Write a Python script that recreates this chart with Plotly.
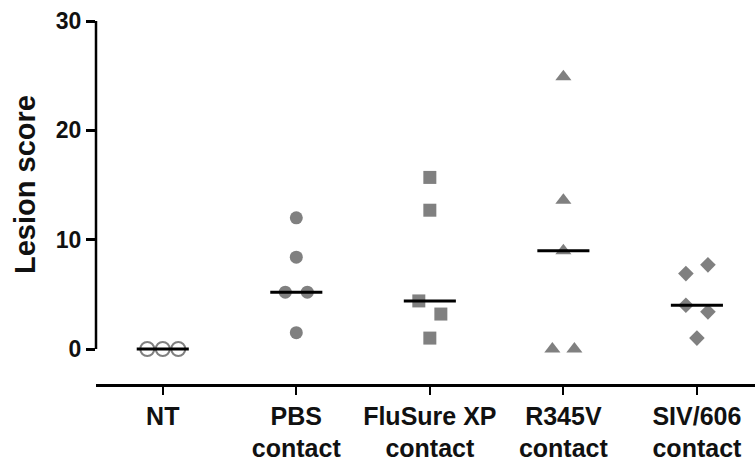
import numpy as np
import plotly.graph_objects as go

# Lesion scores per group (one value per animal)
categories = ["NT", "PBS<br>contact", "FluSure XP<br>contact", "R345V<br>contact", "SIV/606<br>contact"]
nt_scores = [0, 0, 0]
pbs_scores = [12.0, 8.4, 5.2, 5.2, 1.5]
flusure_scores = [15.7, 12.7, 4.4, 3.2, 1.0]
r345v_scores = [24.9, 13.6, 9.0, 0, 0]
siv606_scores = [6.9, 7.7, 4.0, 3.4, 1.0]
y_ticks = [0, 10, 20, 30]

groups = [nt_scores, pbs_scores, flusure_scores, r345v_scores, siv606_scores]
symbols = ["circle-open", "circle", "square", "triangle-up", "diamond"]
sizes = [14, 13, 13, 14, 12]
GREY = "#808080"
INK = "#111111"
FONT = "Liberation Sans, Arial, sans-serif"

W, H = 755, 461
M_L, M_R, M_T, M_B = 96, 0, 15, 77


def swarm_offsets(values, threshold=1.3):
    """Spread points with near-equal values side by side (column scatter)."""
    order = sorted(range(len(values)), key=lambda i: values[i])
    clusters, cur = [], [order[0]]
    for i in order[1:]:
        if values[i] - values[cur[-1]] < threshold:
            cur.append(i)
        else:
            clusters.append(cur)
            cur = [i]
    clusters.append(cur)
    offs = [0.0] * len(values)
    for cl in clusters:
        n = len(cl)
        if n == 1:
            continue
        span = 0.165 if n == 2 else 0.116 * (n - 1)
        cl = sorted(cl)  # keep list order left to right
        for k, i in enumerate(cl):
            offs[i] = -span / 2 + span * k / (n - 1)
    return offs


fig = go.Figure()

for gi, vals in enumerate(groups):
    offs = swarm_offsets(vals)
    xs = [gi + o for o in offs]
    if symbols[gi] == "circle-open":
        marker = dict(symbol="circle-open", size=sizes[gi], color=GREY,
                      line=dict(width=2, color=GREY))
    else:
        marker = dict(symbol=symbols[gi], size=sizes[gi], color=GREY,
                      line=dict(width=0))
    fig.add_trace(go.Scatter(x=xs, y=vals, mode="markers", marker=marker,
                             showlegend=False, hoverinfo="y", cliponaxis=False))

# median bars
for gi, vals in enumerate(groups):
    med = float(np.median(vals))
    fig.add_trace(go.Scatter(x=[gi - 0.195, gi + 0.195], y=[med, med], mode="lines",
                             line=dict(color="black", width=3), showlegend=False,
                             hoverinfo="skip", cliponaxis=False))

# y axis spine running only from 0 to 30
fig.add_shape(type="line", xref="paper", yref="y", x0=0, x1=0, y0=0, y1=30,
              line=dict(color="black", width=2.5))

# y axis title, centred on the 0-30 spine
plot_w = W - M_L - M_R
plot_h = H - M_T - M_B
fig.add_annotation(
    text="<b>Lesion score</b>", textangle=-90, showarrow=False,
    xref="paper", yref="paper",
    x=(25 - M_L) / plot_w, y=(H - M_B - 185) / plot_h,
    xanchor="center", yanchor="middle",
    font=dict(size=29, family=FONT, color=INK),
)

fig.update_layout(
    width=W, height=H,
    margin=dict(l=M_L, r=M_R, t=M_T, b=M_B),
    paper_bgcolor="white", plot_bgcolor="white",
    font=dict(family=FONT, color=INK),
    xaxis=dict(
        range=[-0.5, 4.435], tickmode="array", tickvals=list(range(len(categories))),
        ticktext=[f"<b>{c}</b>" for c in categories],
        tickfont=dict(size=25, family=FONT, color=INK),
        showline=True, linecolor="black", linewidth=2.5,
        ticks="outside", ticklen=8, tickwidth=2, tickcolor="black",
        showgrid=False, zeroline=False,
    ),
    yaxis=dict(
        range=[-3.2, 30.56], tickmode="array", tickvals=y_ticks,
        ticktext=[f"<b>{t}</b>" for t in y_ticks],
        tickfont=dict(size=23, family=FONT, color=INK),
        showline=False, ticks="outside", ticklen=9, tickwidth=2.5, tickcolor="black",
        showgrid=False, zeroline=False,
    ),
)

fig.write_html("out.html")
